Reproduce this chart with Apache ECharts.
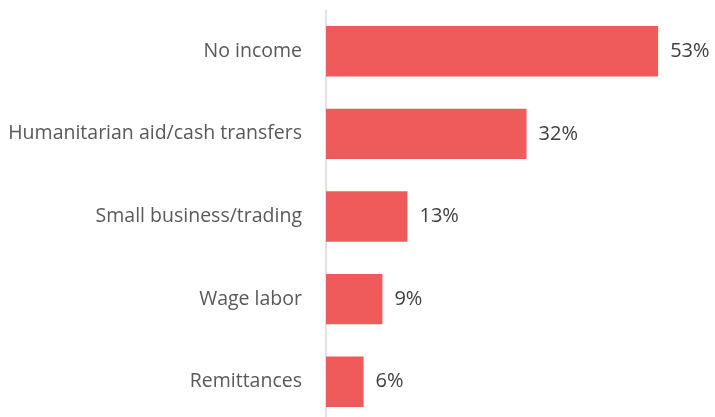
<!DOCTYPE html>
<html>
<head>
<meta charset="utf-8">
<script src="https://cdn.jsdelivr.net/npm/echarts@6/dist/echarts.min.js"></script>
<style>
  html, body { margin: 0; padding: 0; background: #fff; }
  #chart { width: 715px; height: 417px; }
</style>
</head>
<body>
<div id="chart"></div>
<script>
// Main sources of household income (share of respondents, %)
const categories = ['No income', 'Humanitarian aid/cash transfers', 'Small business/trading', 'Wage labor', 'Remittances'];
const shares = [53, 32, 13, 9, 6];

const chart = echarts.init(document.getElementById('chart'));
chart.setOption({
  animation: false,
  grid: { left: 326, top: 10, height: 413, width: 376, outerBoundsMode: 'none', containLabel: false },
  xAxis: {
    type: 'value', min: 0, max: 60,
    show: false
  },
  yAxis: {
    type: 'category',
    inverse: true,
    data: categories,
    axisTick: { show: false },
    axisLine: { show: true, lineStyle: { color: '#d9d9d9', width: 1.5 } },
    axisLabel: {
      margin: 24,
      color: '#595959',
      fontFamily: 'Open Sans',
      fontSize: 19.5
    }
  },
  series: [{
    type: 'bar',
    data: shares,
    barCategoryGap: '39%',
    itemStyle: { color: '#EF5A5B' },
    label: {
      show: true,
      position: 'right',
      distance: 12,
      formatter: p => p.value + '%',
      color: '#404040',
      fontFamily: 'Open Sans',
      fontSize: 20
    }
  }]
});
</script>
</body>
</html>
